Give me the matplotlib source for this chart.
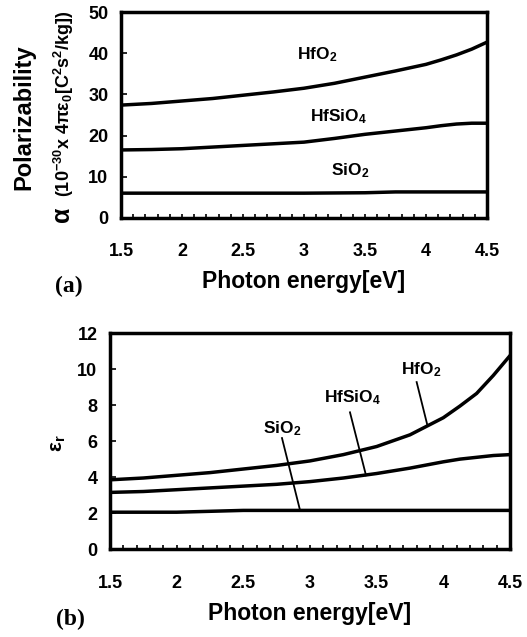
import matplotlib
matplotlib.use('Agg')
import matplotlib.pyplot as plt
from matplotlib.ticker import MultipleLocator

plt.rcParams['font.family'] = ['Liberation Sans', 'DejaVu Sans']
plt.rcParams['font.weight'] = 'bold'
plt.rcParams['mathtext.fontset'] = 'custom'
plt.rcParams['mathtext.rm'] = 'Liberation Sans:bold'
plt.rcParams['mathtext.bf'] = 'Liberation Sans:bold'
plt.rcParams['mathtext.it'] = 'Liberation Sans:bold'
plt.rcParams['mathtext.default'] = 'rm'

# Photon energy grid [eV]
energy = [1.5, 1.75, 2.0, 2.25, 2.5, 2.75, 3.0, 3.25, 3.5, 3.75, 4.0, 4.125, 4.25, 4.375, 4.5]

# (a) polarizability
pol_hfo2 = [27.4, 27.8, 28.4, 29.0, 29.8, 30.6, 31.5, 32.7, 34.2, 35.7, 37.3, 38.4, 39.6, 41.0, 42.7]
pol_hfsio4 = [16.5, 16.6, 16.8, 17.2, 17.6, 18.0, 18.4, 19.3, 20.3, 21.1, 21.9, 22.4, 22.8, 23.0, 23.0]
pol_sio2 = [6.0, 6.0, 6.0, 6.0, 6.0, 6.0, 6.0, 6.05, 6.1, 6.3, 6.3, 6.3, 6.3, 6.3, 6.3]

# (b) dielectric constant
eps_hfo2 = [3.85, 3.95, 4.1, 4.25, 4.45, 4.65, 4.9, 5.25, 5.7, 6.35, 7.3, 7.95, 8.65, 9.65, 10.75]
eps_hfsio4 = [3.15, 3.2, 3.3, 3.4, 3.5, 3.6, 3.75, 3.95, 4.2, 4.5, 4.85, 5.0, 5.1, 5.2, 5.25]
eps_sio2 = [2.05, 2.05, 2.05, 2.1, 2.15, 2.15, 2.15, 2.15, 2.15, 2.15, 2.15, 2.15, 2.15, 2.15, 2.15]

xticks = [1.5, 2, 2.5, 3, 3.5, 4, 4.5]
xticklabels = ['1.5', '2', '2.5', '3', '3.5', '4', '4.5']

# label text positions and leader lines
names = ['HfO$_2$', 'HfSiO$_4$', 'SiO$_2$']
pos_a = [(3.11, 39.7), (3.28, 24.5), (3.38, 11.5)]
pos_b = [(3.83, 9.95), (3.32, 8.4), (2.79, 6.7)]
lead_b = [((3.80, 9.28), (3.88, 6.9)), ((3.30, 7.6), (3.42, 4.1)), ((2.79, 6.17), (2.925, 2.17))]

fig = plt.figure(figsize=(5.27, 6.37), dpi=100)
ax1 = fig.add_axes([0.2296, 0.658, 0.6945, 0.323])
ax2 = fig.add_axes([0.2087, 0.138, 0.759, 0.339])

lw = 2.5
for ax, xpad in ((ax1, 18), (ax2, 19)):
    for s in ['left', 'right', 'top', 'bottom']:
        ax.spines[s].set_linewidth(2.5)
    ax.set_xlim(1.5, 4.5)
    ax.set_xticks(xticks)
    ax.set_xticklabels(xticklabels)
    ax.xaxis.set_minor_locator(MultipleLocator(0.1))
    ax.tick_params(axis='x', which='both', direction='in', length=3, width=1.2, labelsize=13, pad=xpad)
    ax.tick_params(axis='y', which='both', direction='in', length=4, width=1.2, labelsize=13, pad=9)
    ax.set_xlabel('Photon energy[eV]', fontsize=16.5, fontweight='bold', labelpad=7)
    for lbl in ax.get_xticklabels() + ax.get_yticklabels():
        lbl.set_fontweight('bold')

# (a)
ax1.plot(energy, pol_hfo2, color='black', lw=lw)
ax1.plot(energy, pol_hfsio4, color='black', lw=lw)
ax1.plot(energy, pol_sio2, color='black', lw=lw)
ax1.set_ylim(0, 50)
ax1.set_yticks([0, 10, 20, 30, 40, 50])
for n, p in zip(names, pos_a):
    ax1.text(p[0], p[1], n, fontsize=12.5, fontweight='bold', ha='center', va='center')

# (b)
ax2.plot(energy, eps_hfo2, color='black', lw=lw)
ax2.plot(energy, eps_hfsio4, color='black', lw=lw)
ax2.plot(energy, eps_sio2, color='black', lw=lw)
ax2.set_ylim(0, 12)
ax2.set_yticks([0, 2, 4, 6, 8, 10, 12])
for n, p, ld in zip(names, pos_b, lead_b):
    ax2.text(p[0], p[1], n, fontsize=12.5, fontweight='bold', ha='center', va='center')
    ax2.plot([ld[0][0], ld[1][0]], [ld[0][1], ld[1][1]], color='black', lw=1.3)

# axis titles
fig.text(24 / 527, 1 - 117 / 637, 'Polarizability', rotation=90, fontsize=17,
         fontweight='bold', ha='center', va='center')
fig.text(62 / 527, 1 - 214 / 637, 'α', rotation=90, fontsize=18,
         fontweight='bold', ha='center', va='center')
fig.text(64 / 527, 1 - 104 / 637, '(10$^{-30}$x 4πε$_0$[C$^2$s$^2$/kg])', rotation=90,
         fontsize=13, fontweight='bold', ha='center', va='center')
fig.text(58 / 527, 1 - 443 / 637, 'ε$_r$', rotation=90, fontsize=15,
         fontweight='bold', ha='center', va='center')

fig.text(69 / 527, 1 - 286 / 637, '(a)', fontsize=17, fontweight='bold',
         family='Liberation Serif', ha='center', va='center')
fig.text(70 / 527, 1 - 619 / 637, '(b)', fontsize=17, fontweight='bold',
         family='Liberation Serif', ha='center', va='center')

fig.savefig('out.png', dpi=100)
